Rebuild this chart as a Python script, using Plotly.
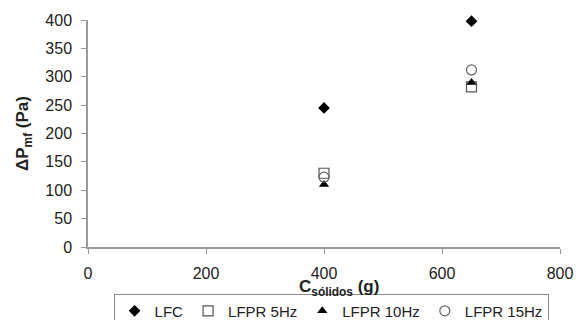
import plotly.graph_objects as go

# Sample mass (g) and minimum-fluidisation pressure drop (Pa)
c_solidos = [400, 650]
lfc = [245, 398]
lfpr_5hz = [130, 282]
lfpr_10hz = [110, 290]
lfpr_15hz = [123, 312]

x_ticks = [0, 200, 400, 600, 800]
y_ticks = [0, 50, 100, 150, 200, 250, 300, 350, 400]

font_family = "Liberation Sans, Arial, sans-serif"

series = [
    ("LFC", lfc, dict(symbol="diamond", size=9, color="black")),
    ("LFPR 5Hz", lfpr_5hz, dict(symbol="square-open", size=10, color="#555555", line=dict(width=1.2))),
    ("LFPR 10Hz", lfpr_10hz, dict(symbol="triangle-up", size=9, color="black")),
    ("LFPR 15Hz", lfpr_15hz, dict(symbol="circle-open", size=10, color="#666666", line=dict(width=1.2))),
]

fig = go.Figure()
for name, vals, marker in series:
    fig.add_trace(go.Scatter(x=c_solidos, y=vals, mode="markers", name=name,
                             marker=marker, cliponaxis=False))

axis_common = dict(
    showline=True, linecolor="#999999", linewidth=1.5,
    ticks="outside", tickcolor="#999999", ticklen=5, tickwidth=1.2,
    showgrid=False, zeroline=False, automargin=False,
    tickfont=dict(family=font_family, size=16, color="#222222"),
)

fig.update_layout(
    width=577, height=320,
    margin=dict(l=88, r=17, t=20, b=73, autoexpand=False),
    paper_bgcolor="white", plot_bgcolor="white",
    font=dict(family=font_family, color="#222222"),
    xaxis=dict(range=[0, 800], tickvals=x_ticks, ticklabelstandoff=6, **axis_common),
    yaxis=dict(
        range=[0, 400], tickvals=y_ticks, ticklabelstandoff=6,
        title=dict(text="<b>ΔP<sub>mf</sub> (Pa)</b>", font=dict(size=17), standoff=12),
        **axis_common,
    ),
    legend=dict(
        orientation="h", x=0.515, xanchor="center", y=-0.205, yanchor="top",
        bordercolor="#888888", borderwidth=1,
        font=dict(family=font_family, size=15, color="#222222"),
        itemwidth=30, tracegroupgap=0,
    ),
    showlegend=True,
)

# x-axis title placed just under the tick labels
fig.add_annotation(
    text="<b>C<sub>sólidos</sub> (g)</b>", xref="paper", yref="paper",
    x=0.532, y=-0.125, xanchor="center", yanchor="top", showarrow=False,
    font=dict(family=font_family, size=17, color="#222222"),
)

fig.write_html("out.html")
